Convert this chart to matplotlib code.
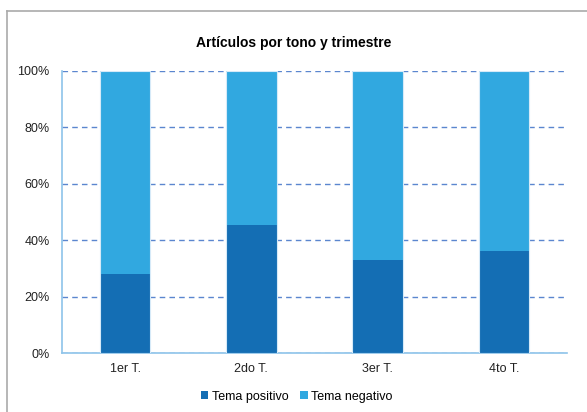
import matplotlib.pyplot as plt
from matplotlib.lines import Line2D
from matplotlib.ticker import PercentFormatter

plt.rcParams['font.family'] = ['Liberation Sans', 'DejaVu Sans']

trimestres = ['1er T.', '2do T.', '3er T.', '4to T.']
positivo = [28.0, 45.4, 33.0, 36.0]
negativo = [100 - p for p in positivo]

dark = '#146EB4'
light = '#31A8E0'

fig = plt.figure(figsize=(5.87, 4.12), dpi=100)
ax = fig.add_axes([62 / 587, 1 - 353 / 412, 505 / 587, 282 / 412])

x = range(len(trimestres))
ax.bar(x, positivo, width=0.4, color=dark, linewidth=0, label='Tema positivo', zorder=3)
ax.bar(x, negativo, width=0.4, bottom=positivo, color=light, linewidth=0,
       label='Tema negativo', zorder=3)
# thin light outline around each stacked column
ax.bar(x, [p + n for p, n in zip(positivo, negativo)], width=0.4, fill=False,
       edgecolor='#D6EAF8', linewidth=0.8, zorder=4)

ax.set_xlim(-0.5, 3.5)
ax.set_ylim(0, 100)
ax.set_xticks(list(x))
ax.set_xticklabels(trimestres, fontsize=9)
ax.set_yticks([0, 20, 40, 60, 80, 100])
ax.yaxis.set_major_formatter(PercentFormatter(decimals=0))
ax.tick_params(axis='y', length=0, pad=9, labelsize=9)
ax.tick_params(axis='x', length=0, pad=7)
for t in ax.get_yticklabels() + ax.get_xticklabels():
    t.set_color('#222222')

ax.yaxis.grid(True, linestyle=(0, (4, 3)), color='#5B86CF', linewidth=1.0, zorder=1)
ax.set_axisbelow(True)
for side in ['top', 'right']:
    ax.spines[side].set_visible(False)
for side in ['left', 'bottom']:
    ax.spines[side].set_color('#8EC4EA')
    ax.spines[side].set_linewidth(1.2)

fig.text(0.5, 1 - 43 / 412, 'Artículos por tono y trimestre', ha='center', va='center',
         fontsize=10, fontweight='bold')

ax.legend(loc='center', bbox_to_anchor=(0.465, -0.155), ncol=2, frameon=False,
          fontsize=9, handlelength=0.6, handleheight=0.6, handletextpad=0.3,
          columnspacing=0.9)

# outer chart frame (left and top edges)
fig.add_artist(Line2D([7 / 587, 7 / 587], [0, 1 - 11 / 412], color='#AAAAAA', lw=1.2))
fig.add_artist(Line2D([7 / 587, 1], [1 - 11 / 412, 1 - 11 / 412], color='#AAAAAA', lw=1.2))

fig.savefig('out.png', dpi=100)
